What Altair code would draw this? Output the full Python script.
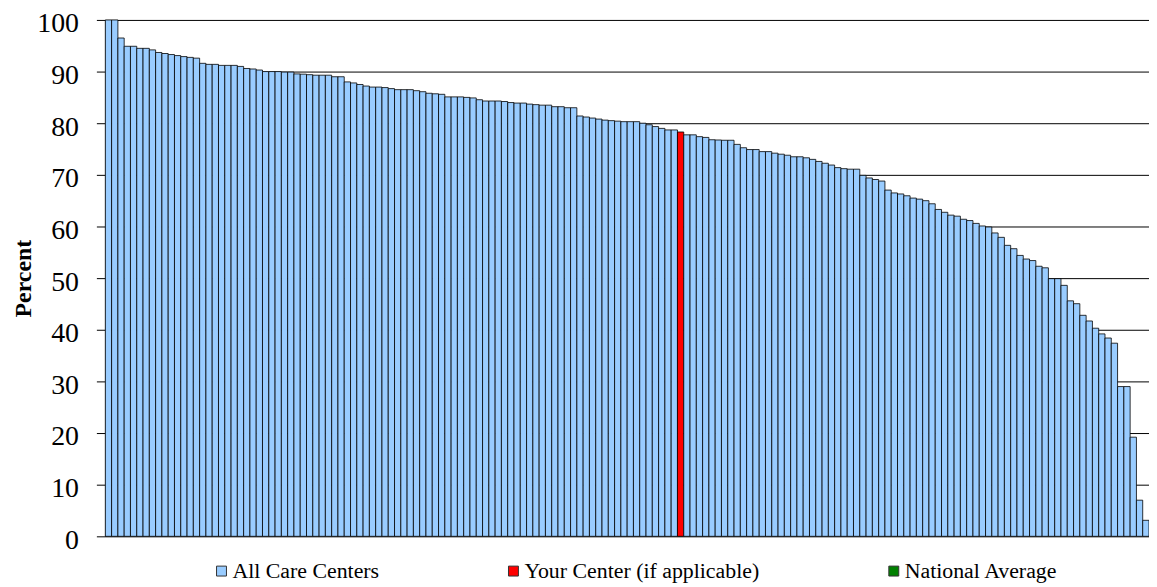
import altair as alt
import pandas as pd

values = [
    100, 100, 96.5, 94.9, 94.9, 94.5, 94.5, 94.2, 93.7, 93.5,
    93.3, 93.1, 92.9, 92.75, 92.6, 91.6, 91.4, 91.4, 91.2, 91.2,
    91.2, 91.0, 90.6, 90.5, 90.3, 90.0, 90.0, 90.0, 89.9, 89.9,
    89.55, 89.5, 89.4, 89.3, 89.3, 89.3, 89.0, 89.0, 88.0, 87.8,
    87.5, 87.2, 87.0, 87.0, 86.9, 86.7, 86.5, 86.5, 86.5, 86.3,
    86.1, 85.8, 85.7, 85.6, 85.1, 85.1, 85.1, 85.0, 84.9, 84.55,
    84.3, 84.3, 84.3, 84.2, 84.0, 83.9, 83.9, 83.7, 83.6, 83.5,
    83.5, 83.2, 83.2, 83.0, 83.0, 81.4, 81.2, 81.0, 80.8, 80.6,
    80.5, 80.4, 80.3, 80.3, 80.3, 80.0, 79.7, 79.35, 79.0, 78.7,
    78.7, 78.3, 77.75, 77.75, 77.4, 77.25, 76.8, 76.75, 76.7, 76.7,
    75.9, 75.25, 74.9, 74.9, 74.5, 74.5, 74.2, 74.0, 73.8, 73.5,
    73.5, 73.3, 73.0, 72.6, 72.25, 71.9, 71.4, 71.2, 71.1, 71.1,
    69.9, 69.4, 69.1, 68.8, 67.05, 66.5, 66.3, 65.95, 65.5, 65.3,
    65.0, 64.4, 63.3, 62.75, 62.2, 62.0, 61.4, 61.15, 60.6, 60.1,
    59.9, 58.75, 57.9, 56.35, 55.7, 54.4, 53.7, 53.4, 52.3, 52.0,
    49.9, 49.9, 48.6, 45.6, 45.05, 42.8, 41.7, 40.3, 39.2, 38.4,
    37.4, 29.0, 29.0, 19.2, 7.0, 3.1,
]
your_center_index = 92  # 1-based position of the highlighted center

categories = ["All Care Centers", "Your Center (if applicable)", "National Average"]
colors = ["#99CCFF", "#FF0000", "#008000"]
y_ticks = [0, 10, 20, 30, 40, 50, 60, 70, 80, 90, 100]

df = pd.DataFrame({
    "center": list(range(1, len(values) + 1)),
    "percent": values,
})
df["group"] = [categories[1] if c == your_center_index else categories[0] for c in df["center"]]

serif = "Liberation Serif"

chart = alt.Chart(df).mark_bar(stroke="black", strokeWidth=0.8).encode(
    x=alt.X("center:O", axis=None,
            scale=alt.Scale(paddingInner=0, paddingOuter=0)),
    y=alt.Y("percent:Q",
            scale=alt.Scale(domain=[0, 100], nice=False),
            axis=alt.Axis(values=y_ticks, title="Percent",
                          titleFont=serif, titleFontSize=24, titleFontWeight="bold",
                          titleColor="black", titlePadding=1,
                          labelFont=serif, labelFontSize=28, labelColor="black",
                          labelPadding=18, labelOffset=4, tickSize=9, tickColor="black",
                          domainColor="black", grid=True, gridColor="black",
                          gridOpacity=1, gridWidth=1)),
    fill=alt.Fill("group:N",
                  scale=alt.Scale(domain=categories, range=colors),
                  legend=alt.Legend(title=None, orient="none", legendX=106, legendY=544,
                                    direction="horizontal", columns=3, columnPadding=124,
                                    symbolType="square", symbolSize=100,
                                    symbolStrokeColor="#333333", symbolStrokeWidth=1,
                                    labelFont=serif, labelFontSize=22, labelColor="black",
                                    labelOffset=0, labelLimit=0)),
).properties(
    width=1051, height=520,
    autosize=alt.AutoSizeParams(type="none"),
    padding={"left": 98, "top": 10, "right": 0, "bottom": 47},
).configure_view(stroke=None)

chart.save("out.html", embed_options={"renderer": "svg", "actions": False})
